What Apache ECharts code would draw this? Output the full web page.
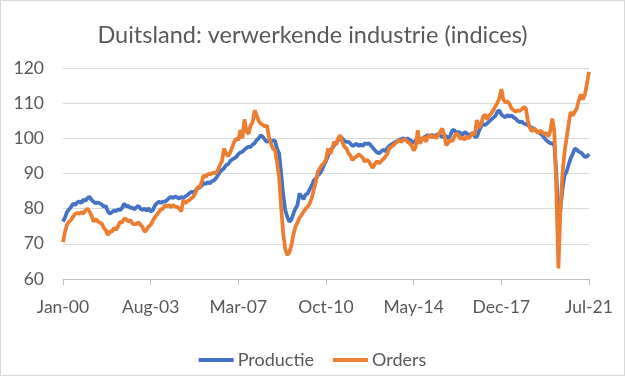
<!DOCTYPE html>
<html><head><meta charset="utf-8">
<script src="https://cdn.jsdelivr.net/npm/echarts@6/dist/echarts.min.js"></script>
<style>
html,body{margin:0;padding:0;background:#fff;}
#wrap{position:absolute;left:0;top:0;width:623px;height:374px;border:1px solid #d9d9d9;}
#chart{width:623px;height:374px;}
</style></head>
<body><div id="wrap"><div id="chart"></div></div>
<script>
var titleText = 'Duitsland: verwerkende industrie (indices)';
var monthNames = ['Jan','Feb','Mar','Apr','May','Jun','Jul','Aug','Sep','Oct','Nov','Dec'];
var startYear = 2000, endYear = 2021, endMonth = 7;
var categories = [];
for (var y = startYear; y <= endYear; y++) {
  for (var m = 0; m < 12; m++) {
    if (y === endYear && m >= endMonth) break;
    categories.push(monthNames[m] + '-' + String(y % 100).padStart(2, '0'));
  }
}
var yTicks = [60, 70, 80, 90, 100, 110, 120];

var productie = [
  76.3, 77.5, 79.1, 79.8, 80.5, 81.5, 81.0, 81.8, 82.0, 81.6, 82.6, 82.2,
  83.0, 83.4, 82.5, 82.0, 81.5, 81.8, 81.5, 81.2, 80.5, 80.8, 79.2, 78.6,
  79.0, 79.5, 79.3, 79.8, 79.6, 80.2, 81.5, 80.6, 80.8, 80.2, 80.3, 79.8,
  80.4, 80.8, 80.0, 79.6, 80.0, 79.4, 80.1, 79.2, 79.5, 80.8, 81.5, 82.0,
  81.6, 82.0, 82.0, 82.4, 83.0, 83.4, 83.0, 83.5, 83.2, 82.8, 83.4, 83.0,
  83.5, 83.8, 84.4, 84.8, 84.5, 85.2, 85.7, 86.0, 86.5, 87.2, 87.0, 87.6,
  87.2, 87.8, 88.0, 88.6, 89.5, 90.5, 91.0, 91.5, 92.4, 92.6, 93.5, 94.0,
  94.3, 94.7, 95.5, 96.0, 96.2, 96.8, 97.3, 97.6, 97.5, 98.2, 98.6, 99.5,
  100.0, 100.9, 100.4, 99.6, 99.0, 99.3, 99.0, 99.4, 99.3, 97.0, 95.7, 90.0,
  84.0, 79.6, 77.7, 76.3, 76.8, 78.5, 80.0, 81.0, 84.3, 83.5, 82.7, 84.0,
  84.3, 85.5, 86.5, 88.0, 88.5, 89.5, 90.0, 91.0, 92.4, 93.5, 95.0, 96.6,
  97.2, 98.0, 98.8, 99.5, 100.4, 100.0, 99.3, 99.0, 99.0, 98.5, 97.8, 98.1,
  98.5, 97.8, 98.3, 97.8, 98.6, 98.4, 98.6, 98.0, 97.3, 96.6, 96.0, 95.7,
  96.3, 96.8, 96.3, 97.2, 97.8, 98.2, 98.6, 98.9, 99.2, 99.6, 99.8, 100.0,
  99.6, 100.0, 99.6, 99.2, 98.6, 99.4, 100.2, 99.5, 99.8, 100.2, 100.6, 100.9,
  100.6, 101.0, 100.6, 100.9, 101.2, 100.8, 100.4, 100.8, 100.6, 100.0, 100.8, 102.3,
  102.3, 101.5, 101.8, 101.5, 101.0, 101.8, 101.4, 100.8, 101.2, 101.5, 100.5, 100.4,
  102.0, 103.3, 104.0, 103.8, 104.2, 104.8, 105.3, 105.8, 106.3, 107.5, 108.0, 106.8,
  106.3, 106.0, 106.6, 106.2, 106.5, 106.0, 105.6, 105.0, 104.6, 104.8, 104.2, 104.0,
  103.8, 103.3, 103.0, 102.8, 102.2, 101.8, 101.4, 101.0, 100.2, 99.5, 99.0, 98.6,
  98.6, 98.0, 90.0, 76.0, 80.0, 85.5, 89.5, 90.5, 92.5, 94.3, 95.5, 97.1,
  96.8, 96.2, 96.0, 95.4, 94.7, 94.8, 95.6
];

var orders = [
  70.5, 73.5, 75.5, 76.3, 76.8, 77.8, 78.5, 78.8, 78.5, 79.0, 78.6, 79.5,
  80.0, 79.2, 78.0, 76.3, 77.0, 76.5, 76.0, 75.8, 74.5, 73.9, 72.5, 73.5,
  73.5, 74.5, 74.0, 75.0, 76.3, 76.0, 77.2, 77.0, 76.3, 76.8, 75.8, 75.6,
  75.6, 76.2, 75.4, 74.8, 73.4, 74.0, 74.9, 75.4, 76.5, 77.5, 78.2, 79.0,
  79.8, 80.0, 81.0, 80.6, 81.0, 80.4, 81.0, 80.6, 80.5, 80.0, 79.2, 82.4,
  81.5, 82.2, 82.4, 83.0, 83.4, 84.5, 86.2, 86.0, 87.5, 89.5, 89.0, 89.8,
  89.8, 90.0, 90.3, 90.0, 91.0, 92.4, 93.5, 97.1, 95.8, 94.9, 96.0, 97.5,
  99.0, 100.0, 99.5, 102.3, 100.0, 105.4, 102.0, 101.3, 103.7, 104.5, 108.0, 106.5,
  105.0, 104.2, 103.8, 103.4, 103.7, 100.4, 98.5, 97.1, 96.6, 93.0, 89.0, 80.5,
  73.0, 68.5, 66.8, 67.5, 69.5, 72.5, 74.9, 76.0, 77.4, 78.2, 79.1, 80.0,
  80.5, 81.5, 83.0, 85.3, 87.5, 90.5, 91.5, 92.4, 93.0, 94.0, 97.1, 95.5,
  97.0, 99.0, 98.2, 100.0, 100.9, 99.0, 97.6, 97.2, 95.8, 95.0, 93.8, 94.5,
  94.8, 95.5, 95.0, 94.5, 93.3, 94.0, 93.4, 92.4, 91.6, 92.8, 93.5, 92.8,
  93.5, 94.0, 94.7, 95.5, 97.1, 97.6, 98.0, 98.6, 99.0, 99.5, 99.0, 99.6,
  99.6, 99.0, 98.6, 98.0, 96.5, 97.5, 102.3, 98.5, 99.5, 100.5, 99.0, 100.5,
  101.0, 100.2, 100.8, 100.0, 101.0, 101.8, 102.8, 101.0, 98.0, 98.8, 99.6, 99.2,
  100.5, 101.5, 100.8, 99.8, 100.2, 99.6, 100.6, 100.0, 100.8, 101.6, 101.0, 105.2,
  103.0, 104.0, 106.1, 106.8, 105.3, 106.5, 107.0, 108.0, 109.0, 110.0, 111.3, 114.0,
  111.0, 110.2, 110.5, 109.8, 108.5, 108.0, 107.6, 108.0, 107.8, 108.2, 108.8, 108.6,
  105.0, 103.0, 102.0, 102.8, 102.3, 101.5, 102.2, 101.8, 101.2, 101.5, 100.5, 102.0,
  105.6, 102.0, 85.0, 63.0, 80.0, 90.0, 96.0, 100.0, 104.0, 107.5, 106.5, 107.5,
  108.5, 110.8, 112.5, 111.0, 112.5, 115.6, 118.9
];

var FONT = 'Lato';
var chart = echarts.init(document.getElementById('chart'), null, {renderer: 'canvas'});
chart.setOption({
  animation: false,
  backgroundColor: '#fff',
  title: {
    text: titleText, left: 'center', top: 17,
    textStyle: {fontFamily: FONT, fontSize: 23.5, fontWeight: 'normal', color: '#595959'}
  },
  legend: {
    data: ['Productie', 'Orders'], bottom: 1, left: 'center',
    icon: 'rect', itemWidth: 35, itemHeight: 4, itemGap: 19,
    textStyle: {fontFamily: FONT, fontSize: 18, color: '#595959', padding: [0, 0, 0, -1]}
  },
  grid: {left: 62, right: 35, top: 67, bottom: 96, containLabel: false},
  xAxis: {
    type: 'category', data: categories, boundaryGap: false,
    axisLine: {lineStyle: {color: '#bfbfbf', width: 1}},
    axisTick: {interval: 42, length: 6, lineStyle: {color: '#bfbfbf'}},
    axisLabel: {interval: 42, margin: 19, fontFamily: FONT, fontSize: 17.5, color: '#595959'},
    splitLine: {show: false}
  },
  yAxis: {
    type: 'value', min: yTicks[0], max: yTicks[yTicks.length - 1], interval: 10,
    axisLine: {show: false}, axisTick: {show: false},
    axisLabel: {margin: 19, fontFamily: FONT, fontSize: 17.5, color: '#595959'},
    splitLine: {lineStyle: {color: '#d9d9d9', width: 1}}
  },
  series: [
    {name: 'Productie', type: 'line', data: productie, showSymbol: false, symbol: 'none',
     lineStyle: {color: '#4472C4', width: 3.75}, itemStyle: {color: '#4472C4'}},
    {name: 'Orders', type: 'line', data: orders, showSymbol: false, symbol: 'none',
     lineStyle: {color: '#ED7D31', width: 3.75}, itemStyle: {color: '#ED7D31'}}
  ]
});
</script></body></html>
